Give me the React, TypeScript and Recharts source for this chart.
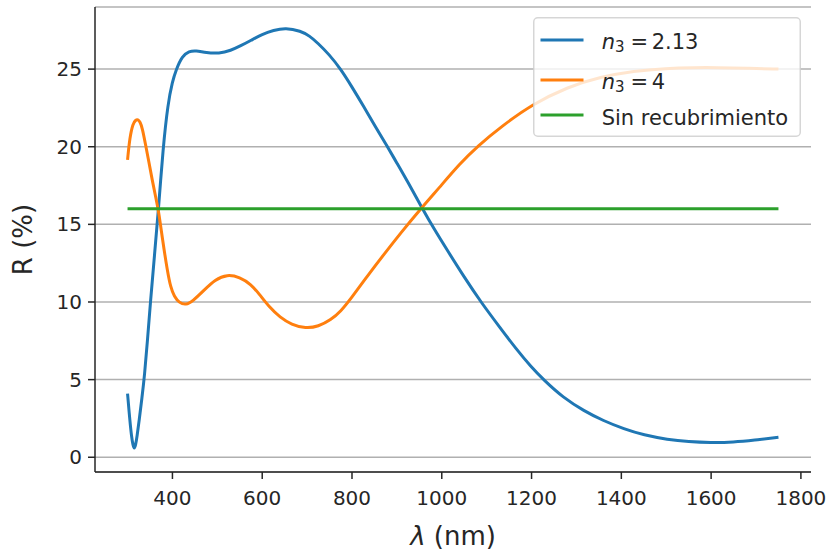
import { LineChart, Line, XAxis, YAxis, CartesianGrid, Legend } from 'recharts';

// reflectance R (%) vs wavelength (nm)
const BLUE_NM = [300, 305, 309, 312, 315, 318, 321, 326, 332, 338, 344, 351, 360, 369, 379, 390, 400, 408, 422, 437, 452, 475, 504, 530, 552, 575, 600, 625, 652, 686, 705, 723, 749, 775, 800, 827, 850, 879, 900, 924, 957, 985, 1013, 1050, 1087, 1131, 1165, 1198, 1228, 1270, 1317, 1360, 1406, 1450, 1503, 1550, 1599, 1650, 1696, 1750];
const BLUE_R = [4.1, 2.4, 1.3, 0.8, 0.5, 0.8, 1.3, 2.4, 3.8, 5.3, 7.4, 10.0, 13.0, 16.0, 19.9, 22.8, 24.2, 24.95, 25.85, 26.15, 26.2, 26.05, 26.0, 26.2, 26.5, 26.85, 27.25, 27.5, 27.67, 27.45, 27.15, 26.7, 25.95, 25.0, 23.85, 22.55, 21.4, 20.0, 18.95, 17.75, 16.0, 14.6, 13.3, 11.6, 10.0, 8.3, 7.0, 5.85, 4.95, 3.85, 2.98, 2.35, 1.82, 1.43, 1.14, 1.0, 0.94, 0.97, 1.1, 1.29];

const ORANGE_NM = [300, 305, 312, 318, 323, 328, 333, 340, 348, 355, 362, 369, 378, 389, 396, 404, 415, 430, 445, 470, 495, 522, 550, 575, 595, 615, 640, 665, 697, 725, 753, 775, 797, 835, 872, 910, 953, 994, 1040, 1080, 1135, 1200, 1280, 1354, 1428, 1500, 1560, 1614, 1680, 1750];
const ORANGE_R = [19.15, 20.6, 21.5, 21.72, 21.76, 21.6, 21.2, 20.15, 18.95, 17.85, 16.85, 15.9, 14.0, 11.95, 10.95, 10.35, 9.95, 9.8, 10.05, 10.75, 11.45, 11.78, 11.6, 11.15, 10.45, 9.7, 9.0, 8.55, 8.29, 8.42, 8.85, 9.4, 10.2, 11.7, 13.1, 14.5, 16.0, 17.35, 18.9, 20.05, 21.35, 22.7, 23.85, 24.5, 24.88, 25.05, 25.1, 25.1, 25.06, 25.0];

const BARE_NM = [300, 1750];
const BARE_R = [16, 16];

const X_TICKS = [400, 600, 800, 1000, 1200, 1400, 1600, 1800];
const Y_TICKS = [0, 5, 10, 15, 20, 25];

const toPoints = (xs: number[], ys: number[]) => xs.map((nm, i) => ({ nm, r: ys[i] }));

const blueData = toPoints(BLUE_NM, BLUE_R);
const orangeData = toPoints(ORANGE_NM, ORANGE_R);
const bareData = toPoints(BARE_NM, BARE_R);

const FONT = '"DejaVu Sans", sans-serif';
const INK = '#262626';
const C0 = '#1f77b4';
const C1 = '#ff7f0e';
const C2 = '#2ca02c';

const LEGEND_ROWS = [
  { color: C0, lineY: 23, base: 31.5, value: '2.13', math: true },
  { color: C1, lineY: 63, base: 72.3, value: '4', math: true },
  { color: C2, lineY: 98, base: 108, value: 'Sin recubrimiento', math: false },
];

function LegendBox() {
  return (
    <svg width={268} height={120} style={{ display: 'block', fontFamily: FONT }}>
      <rect x={0.75} y={0.75} width={266.5} height={118.5} rx={4} fill="rgba(255,255,255,0.8)" stroke="rgba(204,204,204,0.8)" strokeWidth={1.5} />
      {LEGEND_ROWS.map((row) => (
        <g key={row.value}>
          <line x1={7.5} x2={50.5} y1={row.lineY} y2={row.lineY} stroke={row.color} strokeWidth={3} />
          {row.math ? (
            <text y={row.base} fontSize={21} fill={INK}>
              <tspan x={68.7} fontStyle="italic">n</tspan>
              <tspan x={82} dy={3} fontSize={15}>3</tspan>
              <tspan x={97.5} dy={-3}>=</tspan>
              <tspan x={118.7}>{row.value}</tspan>
            </text>
          ) : (
            <text x={68.7} y={row.base} fontSize={21} fill={INK}>{row.value}</text>
          )}
        </g>
      ))}
    </svg>
  );
}

export default function App() {
  return (
    <div style={{ position: 'absolute', left: 0, top: 0, background: '#fff' }}>
      <LineChart width={829} height={552} margin={{ top: 7, right: 18, bottom: 0, left: 0 }}>
        <CartesianGrid horizontal vertical={false} stroke="#b0b0b0" strokeWidth={1.5} />
        <XAxis
          type="number"
          dataKey="nm"
          domain={[227.5, 1822.5]}
          ticks={X_TICKS}
          height={80}
          stroke={INK}
          strokeWidth={1.5}
          tickSize={7}
          tickMargin={12}
          tick={{ fill: INK, fontSize: 20, fontFamily: FONT }}
          label={{
            content: (props: any) => {
              const vb = props.viewBox;
              return (
                <text x={vb.x + vb.width / 2} y={545} textAnchor="middle" fontSize={26} fontFamily={FONT} fill={INK}>
                  <tspan fontStyle="italic">λ</tspan> (nm)
                </text>
              );
            },
          }}
        />
        <XAxis xAxisId="top" orientation="top" type="number" domain={[227.5, 1822.5]} height={0} tick={false} tickLine={false} stroke={INK} strokeWidth={1.5} />
        <YAxis
          type="number"
          domain={[-0.95, 29]}
          ticks={Y_TICKS}
          width={95}
          stroke={INK}
          strokeWidth={1.5}
          tickSize={7}
          tickMargin={6}
          tick={{ fill: INK, fontSize: 20, fontFamily: FONT }}
          label={{
            content: (props: any) => {
              const vb = props.viewBox;
              const cy = vb.y + vb.height / 2;
              return (
                <text x={32} y={cy} transform={`rotate(-90, 32, ${cy})`} textAnchor="middle" fontSize={26} fontFamily={FONT} fill={INK}>
                  R (%)
                </text>
              );
            },
          }}
        />
        <YAxis yAxisId="right" orientation="right" type="number" domain={[-0.95, 29]} width={0} tick={false} tickLine={false} stroke={INK} strokeWidth={1.5} />
        <Line data={blueData} dataKey="r" type="basis" stroke={C0} strokeWidth={3} dot={false} isAnimationActive={false} />
        <Line data={orangeData} dataKey="r" type="basis" stroke={C1} strokeWidth={3} dot={false} isAnimationActive={false} />
        <Line data={bareData} dataKey="r" type="linear" stroke={C2} strokeWidth={3} dot={false} isAnimationActive={false} />
        <Legend
          layout="vertical"
          align="center"
          verticalAlign="middle"
          width={268}
          height={120}
          wrapperStyle={{ left: 533, top: 17, width: 268, height: 120 }}
          content={() => <LegendBox />}
        />
      </LineChart>
    </div>
  );
}
